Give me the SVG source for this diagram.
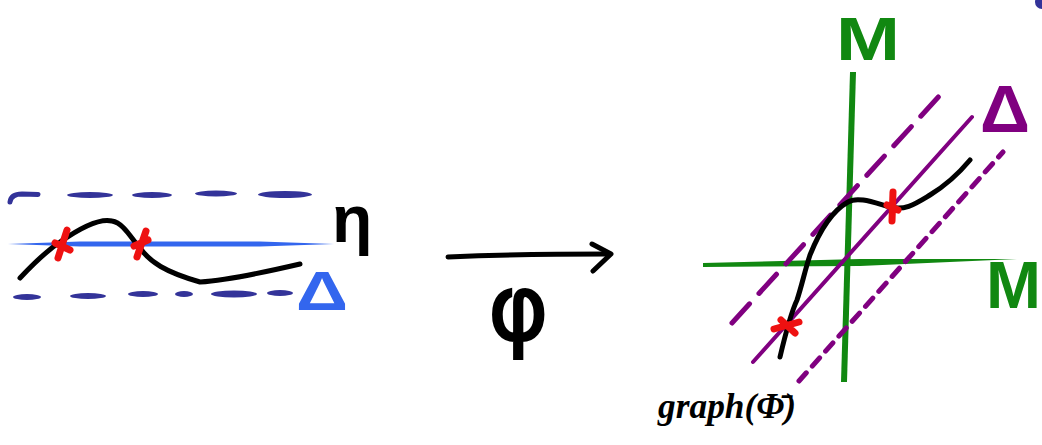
<svg xmlns="http://www.w3.org/2000/svg" width="1042" height="445" viewBox="0 0 1042 445">
<style>
.navy{fill:#333399}
.ink{fill:none;stroke:#000;stroke-width:5;stroke-linecap:round;stroke-linejoin:round}
.red{fill:none;stroke:#ee1111;stroke-width:7;stroke-linecap:round}
.green{fill:#118811}
.pdash{fill:none;stroke:#800080;stroke-width:5;stroke-linecap:round}
.lbl{font-family:"Liberation Sans","DejaVu Sans",sans-serif;font-weight:bold}
</style>
<rect width="1042" height="445" fill="#fff"/>
<g id="left-band">
  <path d="M10,202 Q11,194 22,194 L38,194.5" fill="none" stroke="#333399" stroke-width="5" stroke-linecap="round"/>
  <ellipse class="navy" cx="90" cy="195" rx="23" ry="3"/>
  <ellipse class="navy" cx="152" cy="195" rx="20" ry="3"/>
  <ellipse class="navy" cx="216" cy="193.5" rx="21" ry="3"/>
  <ellipse class="navy" cx="285" cy="194.5" rx="27" ry="3.5"/>
  <ellipse class="navy" cx="27" cy="297" rx="14" ry="3"/>
  <ellipse class="navy" cx="88" cy="296" rx="18" ry="3"/>
  <ellipse class="navy" cx="143" cy="294" rx="15" ry="3"/>
  <ellipse class="navy" cx="184" cy="294" rx="9" ry="3"/>
  <ellipse class="navy" cx="234" cy="294" rx="23" ry="3.5"/>
  <ellipse class="navy" cx="280" cy="293" rx="13" ry="3"/>
  <polygon points="8,244 80,241.5 260,241.5 334,244 260,246.5 80,246.5" fill="#3366ee"/>
</g>
<g id="left-curve">
  <path class="ink" d="M20,278 C35,262 48,250 60,242 C80,228 100,218 112,221 C124,223 132,240 140,248 C150,262 165,272 200,282 C230,280 270,271 300,264"/>
  <path class="red" d="M67,230 L58,258 M55,243 L70,250"/>
  <path class="red" d="M146,231 L137,257 M134,246 L148,240"/>
</g>
<g id="label-eta"><text class="lbl" x="332" y="242" font-size="66" fill="#000">η</text></g>
<g id="label-delta-blue"><text class="lbl" x="296" y="310" font-size="56" fill="#3366ee" textLength="52" lengthAdjust="spacingAndGlyphs">Δ</text></g>
<g id="connectors">
  <path d="M448,257 Q520,254 608,254" fill="none" stroke="#000" stroke-width="5" stroke-linecap="round"/>
  <path d="M592,244 L611,254 L593,271" fill="none" stroke="#000" stroke-width="5" stroke-linecap="round" stroke-linejoin="round"/>
</g>
<g id="label-phi"><text x="488" y="340" font-family="DejaVu Sans, sans-serif" font-size="92" fill="#000" stroke="#000" stroke-width="2">φ</text></g>
<g id="right-axes">
  <polygon class="green" points="850,72 856,72 847,382 841,382"/>
  <polygon class="green" points="703,263 860,259 1017,259 860,266 703,267"/>
  <text class="lbl" x="836" y="60" font-size="62" fill="#118811" textLength="64" lengthAdjust="spacingAndGlyphs">M</text>
  <text class="lbl" x="986" y="308" font-size="66" fill="#118811" textLength="55" lengthAdjust="spacingAndGlyphs">M</text>
</g>
<g id="right-diagonal">
  <line x1="753" y1="362" x2="972" y2="117" stroke="#800080" stroke-width="4" stroke-linecap="round"/>
  <path class="pdash" d="M732,323 L942,93" stroke-dasharray="26 14"/>
  <path class="pdash" d="M799,381 L1003,152" stroke-dasharray="11 9"/>
  <text class="lbl" x="980" y="132" font-size="66" fill="#800080" textLength="50" lengthAdjust="spacingAndGlyphs">Δ</text>
</g>
<g id="right-curve">
  <path class="ink" d="M780,357 C784,340 790,315 797,300 C802,285 805,270 810,255 C818,235 830,212 848,202 C858,196 875,203 890,207 C905,211 915,204 930,195 C948,184 960,172 970,160"/>
  <path class="red" d="M774,329 L799,322 M781,320 L795,333"/>
  <path class="red" d="M893,192 L892,221 M887,205 L898,210"/>
</g>
<g id="label-graph"><text x="658" y="418" font-family="Liberation Serif, serif" font-style="italic" font-weight="bold" font-size="36" fill="#000" textLength="138" lengthAdjust="spacingAndGlyphs">graph(Φ̄)</text></g>
<circle class="navy" cx="1042" cy="2" r="7"/>
</svg>
